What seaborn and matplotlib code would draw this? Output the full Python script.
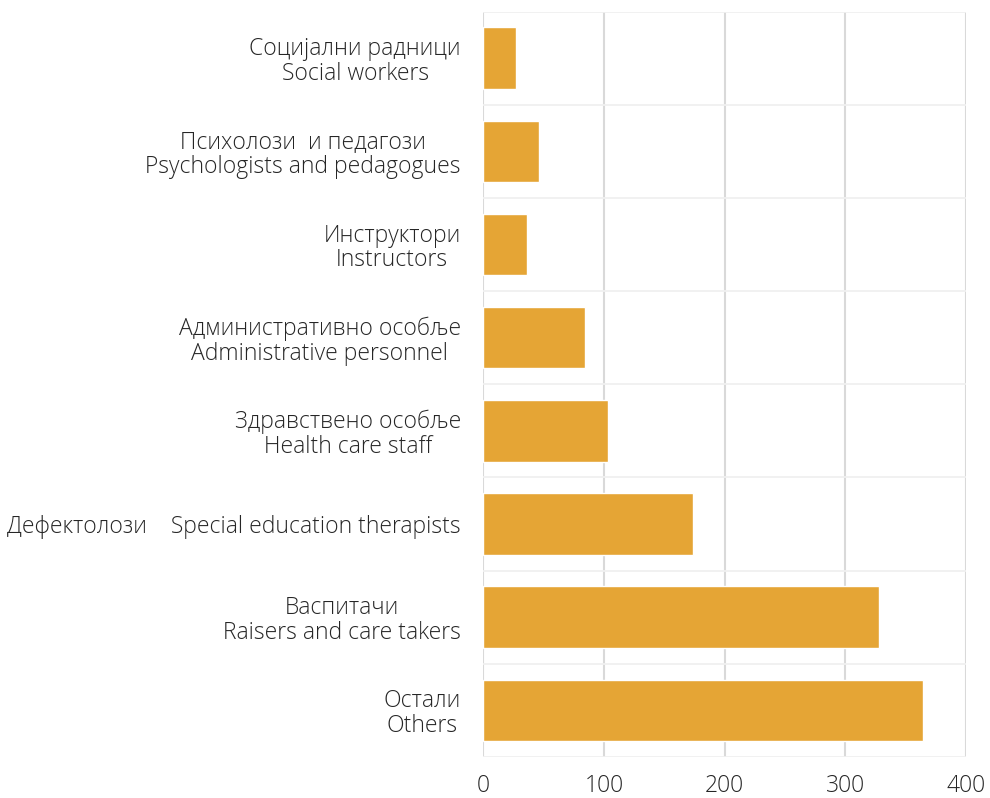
import numpy as np
import pandas as pd
import matplotlib
matplotlib.use("Agg")
import matplotlib.pyplot as plt
import seaborn as sns

categories = [
    "Социјални радници\nSocial workers",
    "Психолози  и педагози\nPsychologists and pedagogues",
    "Инструктори\nInstructors",
    "Административно особље\nAdministrative personnel",
    "Здравствено особље\nHealth care staff",
    "Дефектолози    Special education therapists",
    "Васпитачи\nRaisers and care takers",
    "Остали\nOthers",
]
counts = [27, 46, 36, 84, 103, 174, 328, 364]
x_ticks = [0, 100, 200, 300, 400]

sns.set_theme(style="white")
plt.rcParams["font.family"] = ["Open Sans", "DejaVu Sans"]

df = pd.DataFrame({"category": categories, "count": counts})

fig = plt.figure(figsize=(9.9, 7.98), dpi=100)
ax = fig.add_axes([0.488, 0.0514, 0.488, 0.934])

sns.barplot(data=df, y="category", x="count", orient="h", color="#E5A535",
            saturation=1, width=0.66, ax=ax, zorder=3)

ax.set_xlim(0, 400)
ax.set_xticks(x_ticks)
ax.set_ylim(len(categories) - 0.5, -0.5)
ax.set_yticks(np.arange(-0.5, len(categories), 0.5), minor=True)
ax.grid(axis="x", which="major", color="#d9d9d9", linewidth=1.5, zorder=0)
ax.grid(axis="y", which="minor", color="#f0f0f0", linewidth=1.3, zorder=0)
ax.set_axisbelow(True)
for s in ax.spines.values():
    s.set_visible(False)

ax.set_xlabel("")
ax.set_ylabel("")
ax.tick_params(axis="y", which="both", length=0, pad=16, labelsize=16.5, labelcolor="#262626")
ax.tick_params(axis="x", length=0, pad=12, labelsize=16.5, labelcolor="#262626")
for lab in ax.get_yticklabels():
    lab.set_multialignment("center")
    lab.set_fontweight("light")
    lab.set_linespacing(1.05)
for lab in ax.get_xticklabels():
    lab.set_fontweight("light")

fig.savefig("out.png", dpi=100)
